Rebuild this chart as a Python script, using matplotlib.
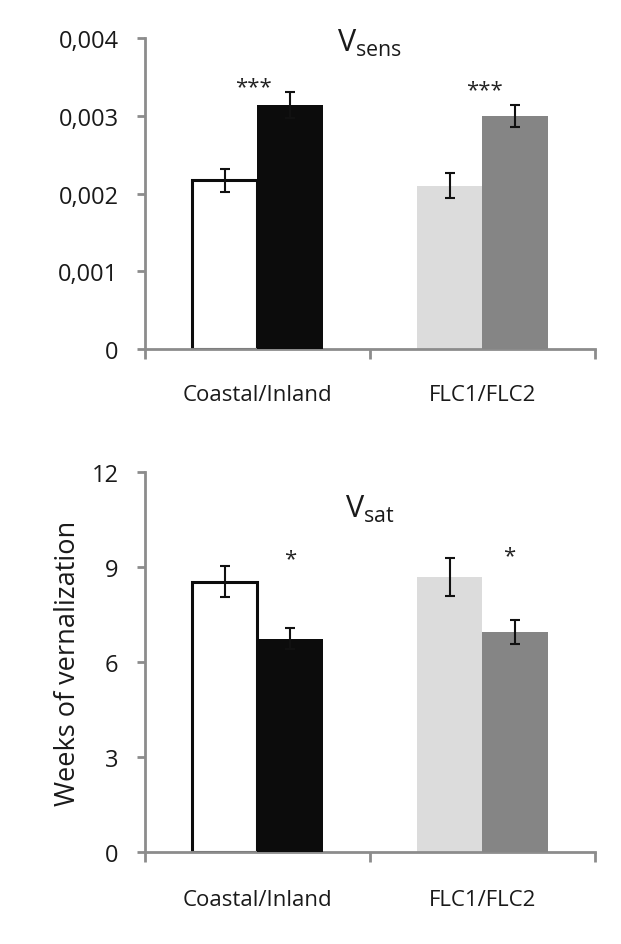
import matplotlib.pyplot as plt
import numpy as np

plt.rcParams['font.family'] = ['Open Sans', 'DejaVu Sans']

categories = ["Coastal/Inland", "FLC1/FLC2"]

# V_sens (first bar / second bar of each pair)
vsens_a = [0.00217, 0.00210]
vsens_a_err = [0.00015, 0.00016]
vsens_b = [0.00314, 0.00300]
vsens_b_err = [0.00017, 0.00014]
vsens_stars = ["***", "***"]

# V_sat, weeks of vernalization
vsat_a = [8.54, 8.67]
vsat_a_err = [0.48, 0.60]
vsat_b = [6.74, 6.95]
vsat_b_err = [0.32, 0.38]
vsat_stars = ["*", "*"]

colors_a = ['white', '#dcdcdc']
colors_b = ['#0c0c0c', '#858585']
edges_a = ['#0c0c0c', '#dcdcdc']
edges_b = ['#0c0c0c', '#858585']

axis_gray = '#8c8c8c'
w = 0.29


def draw_panel(ax, a, a_err, b, b_err, stars, star_y, star_dx, title, title_y, ymax, yticks, ylabels, xpad):
    x = np.arange(len(categories))
    for i in range(len(categories)):
        ax.bar(x[i] - w / 2, a[i], w, color=colors_a[i], edgecolor=edges_a[i],
               linewidth=2.2 if i == 0 else 0, zorder=2)
        ax.bar(x[i] + w / 2, b[i], w, color=colors_b[i], edgecolor=edges_b[i],
               linewidth=0, zorder=3)
    ax.errorbar(x - w / 2, a, yerr=a_err, fmt='none', ecolor='#111111',
                elinewidth=1.5, capsize=3.8, capthick=1.5, zorder=4)
    ax.errorbar(x + w / 2, b, yerr=b_err, fmt='none', ecolor='#111111',
                elinewidth=1.5, capsize=3.8, capthick=1.5, zorder=4)
    for i, s in enumerate(stars):
        ax.text(x[i] + star_dx[i], star_y[i], s, ha='center', va='center',
                fontsize=16, color='#222222')
    ax.text(0.5, title_y, title, transform=ax.transAxes, ha='center', va='center',
            fontsize=22, color='#1a1a1a')

    ax.set_xlim(-0.5, 1.5)
    ax.set_ylim(0, ymax)
    ax.set_xticks([-0.5, 0.5, 1.5])
    ax.set_xticklabels([])
    ax.set_xticks(x, minor=True)
    ax.set_xticklabels(categories, minor=True, fontsize=16, color='#1a1a1a')
    ax.tick_params(axis='x', which='minor', length=0, pad=xpad)
    ax.tick_params(axis='x', which='major', length=7, width=2, color=axis_gray)
    ax.set_yticks(yticks)
    ax.set_yticklabels(ylabels, fontsize=17, color='#1a1a1a')
    ax.tick_params(axis='y', length=6, width=2, color=axis_gray, pad=13)
    for side in ['top', 'right']:
        ax.spines[side].set_visible(False)
    for side in ['left', 'bottom']:
        ax.spines[side].set_color(axis_gray)
        ax.spines[side].set_linewidth(2)


fig = plt.figure(figsize=(6.21, 9.45), dpi=100)
ax1 = fig.add_axes([0.2335, 0.6296, 0.7246, 0.329])
ax2 = fig.add_axes([0.2335, 0.0974, 0.7246, 0.4021])

draw_panel(ax1, vsens_a, vsens_a_err, vsens_b, vsens_b_err, vsens_stars,
           [0.00337, 0.00334], [-0.02, 0.01], r'$\mathregular{V_{sens}}$', 0.985,
           0.004, [0, 0.001, 0.002, 0.003, 0.004], ['0', '0,001', '0,002', '0,003', '0,004'], 25)
draw_panel(ax2, vsat_a, vsat_a_err, vsat_b, vsat_b_err, vsat_stars,
           [9.25, 9.35], [0.145, 0.12], r'$\mathregular{V_{sat}}$', 0.905,
           12, [0, 3, 6, 9, 12], ['0', '3', '6', '9', '12'], 27)
ax2.set_ylabel("Weeks of vernalization", fontsize=19.5, color='#1a1a1a', labelpad=7)

fig.savefig("out.png", dpi=100)
